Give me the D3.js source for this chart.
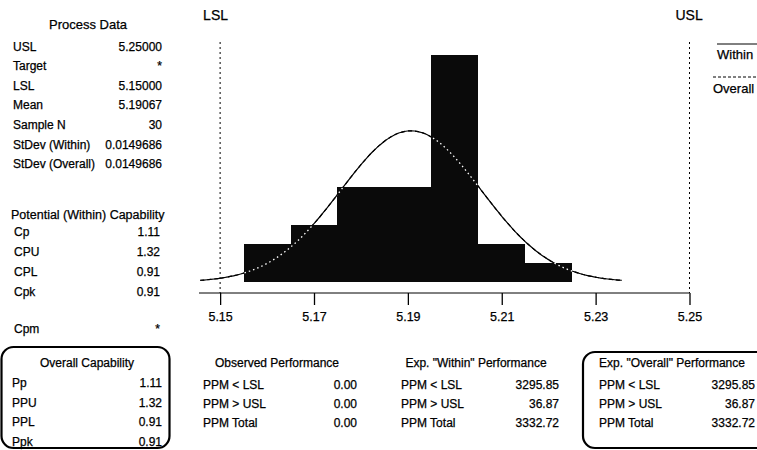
<!DOCTYPE html>
<html><head><meta charset="utf-8">
<script src="https://cdn.jsdelivr.net/npm/d3@7/dist/d3.min.js"></script>
<style>
body{margin:0;background:#fff;}
svg text{font-family:"Liberation Sans",Arial,sans-serif;fill:#000;stroke:#000;stroke-width:0.25px;}
</style></head>
<body><svg id="c" width="757" height="450"></svg>
<script>
// ---- data ----
const binStarts = [5.155, 5.165, 5.175, 5.185, 5.195, 5.205, 5.215];
const binCounts = [2, 3, 5, 5, 12, 2, 1];
const binWidth = 0.01;
const xTicks = [5.15, 5.17, 5.19, 5.21, 5.23, 5.25];
const LSL = 5.15, USL = 5.25;
const processMean = 5.19067, sampleN = 30, stdevWithin = 0.0149686, stdevOverall = 0.0149686;

const processLabels = ["USL","Target","LSL","Mean","Sample N","StDev (Within)","StDev (Overall)"];
const processValues = ["5.25000","*","5.15000","5.19067","30","0.0149686","0.0149686"];
const withinLabels = ["Cp","CPU","CPL","Cpk"];
const withinValues = ["1.11","1.32","0.91","0.91"];
const overallLabels = ["Pp","PPU","PPL","Ppk"];
const overallValues = ["1.11","1.32","0.91","0.91"];
const perfLabels = ["PPM < LSL","PPM > USL","PPM Total"];
const observedValues = ["0.00","0.00","0.00"];
const expWithinValues = ["3295.85","36.87","3332.72"];
const expOverallValues = ["3295.85","36.87","3332.72"];

const svg = d3.select("#c");
const x = d3.scaleLinear().domain([5.1455, 5.25]).range([199, 689.5]);
const y = d3.scaleLinear().domain([0, 12]).range([282, 55]);

// fitted normal curve from mean and stdev
function curvePts(sd){
  const pts=[]; const lo=processMean-3*sd, hi=processMean+3*sd;
  for(let i=0;i<=120;i++){
    const v=lo+(hi-lo)*i/120;
    const d=Math.exp(-0.5*((v-processMean)/sd)**2)/(sd*Math.sqrt(2*Math.PI));
    pts.push([v, d*sampleN*binWidth]);
  }
  return pts;
}
const line = d3.line().x(d=>x(d[0])).y(d=>y(d[1])).curve(d3.curveBasis);

// clip for bars
const defs = svg.append("defs");
const cp = defs.append("clipPath").attr("id","barclip");
cp.selectAll("rect").data(binStarts).join("rect")
  .attr("x",d=>x(d)).attr("width",d=>x(d+binWidth)-x(d))
  .attr("y",(d,i)=>y(binCounts[i])).attr("height",(d,i)=>y(0)-y(binCounts[i]));

// spec lines
[LSL,USL].forEach(v=>{
  svg.append("line").attr("x1",x(v)).attr("x2",x(v)).attr("y1",42).attr("y2",y(0)+11)
    .attr("stroke","#000").attr("stroke-width",1).attr("stroke-dasharray","2,3");
});
svg.append("text").attr("x",x(LSL)-17).attr("y",20).attr("font-size",14).text("LSL");
svg.append("text").attr("x",x(USL)-14).attr("y",20).attr("font-size",14).text("USL");

// curves (behind bars)
svg.append("path").attr("d",line(curvePts(stdevOverall))).attr("fill","none").attr("stroke","#000").attr("stroke-width",1.2).attr("stroke-dasharray","4,3");
svg.append("path").attr("d",line(curvePts(stdevWithin))).attr("fill","none").attr("stroke","#000").attr("stroke-width",1.2);

// bars
svg.append("g").attr("shape-rendering","crispEdges").selectAll("rect").data(binStarts).join("rect")
  .attr("x",d=>Math.round(x(d))).attr("width",d=>Math.round(x(d+binWidth))-Math.round(x(d)))
  .attr("y",(d,i)=>Math.round(y(binCounts[i]))).attr("height",(d,i)=>Math.round(y(0))-Math.round(y(binCounts[i])))
  .attr("fill","#0a0a0a");

// white dotted curve over bars
svg.append("path").attr("d",line(curvePts(stdevWithin))).attr("fill","none")
  .attr("stroke","#fff").attr("stroke-width",1.3).attr("stroke-dasharray","1.5,3")
  .attr("clip-path","url(#barclip)");

// axis
const ax = svg.append("g").attr("transform","translate(0,293)")
  .call(d3.axisBottom(x).tickValues(xTicks).tickFormat(d3.format(".2f")).tickSize(12).tickSizeOuter(0));
ax.select(".domain").attr("stroke","#000").attr("d",`M199,0H${x(USL)}`);
ax.selectAll(".tick line").attr("stroke","#000").attr("stroke-width",1.3);
ax.selectAll(".tick text").attr("font-size",12.5).attr("font-family","Liberation Sans, Arial, sans-serif").attr("fill","#000").attr("dy","1.05em");

// legend
svg.append("line").attr("x1",717).attr("x2",760).attr("y1",44).attr("y2",44).attr("stroke","#000").attr("stroke-width",1);
svg.append("text").attr("x",717).attr("y",59).attr("font-size",13).text("Within");
svg.append("line").attr("x1",713).attr("x2",760).attr("y1",77).attr("y2",77).attr("stroke","#000").attr("stroke-width",1).attr("stroke-dasharray","3,2");
svg.append("text").attr("x",713).attr("y",93).attr("font-size",13).text("Overall");

// left panel
const fs = 12;
svg.append("text").attr("x",88).attr("y",29).attr("text-anchor","middle").attr("font-size",13).text("Process Data");
processLabels.forEach((l,i)=>{
  const yy=50.5+19.6*i;
  svg.append("text").attr("x",13).attr("y",yy).attr("font-size",fs).text(l);
  svg.append("text").attr("x",162).attr("y",yy).attr("text-anchor","end").attr("font-size",fs).text(processValues[i]);
});
svg.append("text").attr("x",11).attr("y",219).attr("font-size",12.5).text("Potential (Within) Capability");
withinLabels.forEach((l,i)=>{
  const yy=236+20*i;
  svg.append("text").attr("x",14).attr("y",yy).attr("font-size",fs).text(l);
  svg.append("text").attr("x",160).attr("y",yy).attr("text-anchor","end").attr("font-size",fs).text(withinValues[i]);
});
svg.append("text").attr("x",14).attr("y",333).attr("font-size",fs).text("Cpm");
svg.append("text").attr("x",160).attr("y",333).attr("text-anchor","end").attr("font-size",fs).text("*");

svg.append("rect").attr("x",1.5).attr("y",347).attr("width",168).attr("height",101).attr("rx",12)
  .attr("fill","none").attr("stroke","#000").attr("stroke-width",2.2);
svg.append("text").attr("x",87).attr("y",367).attr("text-anchor","middle").attr("font-size",fs).text("Overall Capability");
overallLabels.forEach((l,i)=>{
  const yy=387+19.5*i;
  svg.append("text").attr("x",12).attr("y",yy).attr("font-size",fs).text(l);
  svg.append("text").attr("x",162).attr("y",yy).attr("text-anchor","end").attr("font-size",fs).text(overallValues[i]);
});

// bottom tables
function table(title, tx, lx, vx, vals){
  svg.append("text").attr("x",tx).attr("y",367).attr("text-anchor","middle").attr("font-size",fs).text(title);
  perfLabels.forEach((l,i)=>{
    const yy=389+19*i;
    svg.append("text").attr("x",lx).attr("y",yy).attr("font-size",fs).text(l);
    svg.append("text").attr("x",vx).attr("y",yy).attr("text-anchor","end").attr("font-size",fs).text(vals[i]);
  });
}
table("Observed Performance",277,203,357,observedValues);
table("Exp. \"Within\" Performance",476,401,559,expWithinValues);
svg.append("rect").attr("x",583).attr("y",352).attr("width",200).attr("height",96).attr("rx",12)
  .attr("fill","none").attr("stroke","#000").attr("stroke-width",2.2);
table("Exp. \"Overall\" Performance",672,599,755,expOverallValues);
</script></body></html>
